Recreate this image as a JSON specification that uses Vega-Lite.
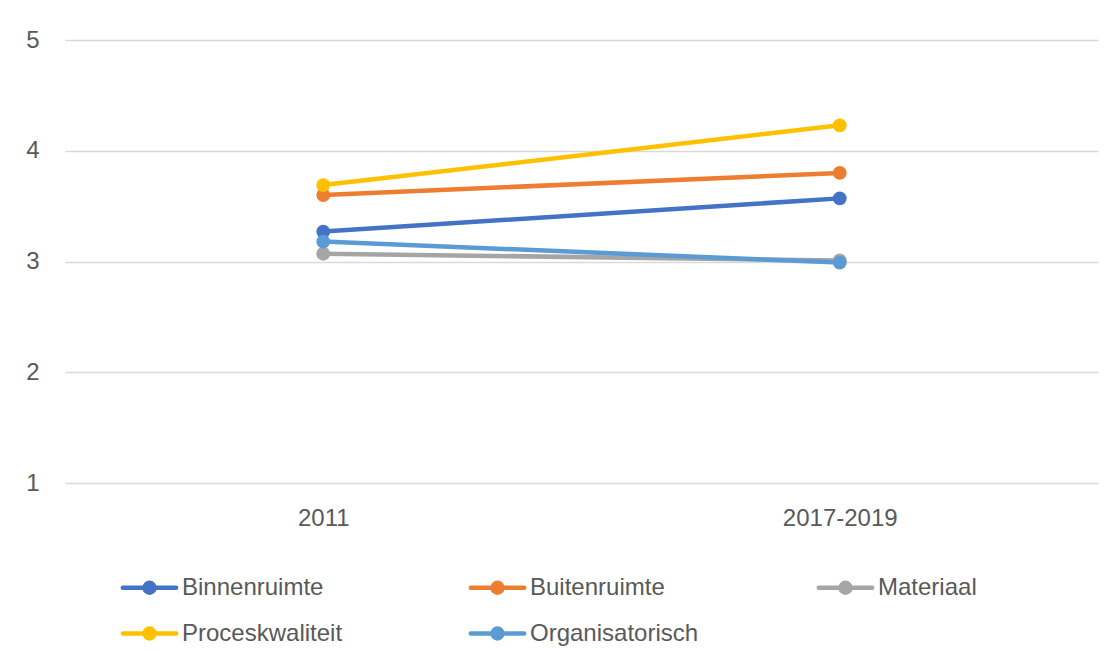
{
  "$schema": "https://vega.github.io/schema/vega-lite/v6.json",
  "width": 1033,
  "height": 443,
  "autosize": {"type": "none"},
  "padding": {"left": 65, "top": 40, "right": 17, "bottom": 167},
  "background": "white",
  "config": {
    "view": {"stroke": null},
    "font": "Liberation Sans"
  },
  "data": {
    "values": [
      {"periode": "2011", "reeks": "Binnenruimte", "waarde": 3.27},
      {"periode": "2017-2019", "reeks": "Binnenruimte", "waarde": 3.57},
      {"periode": "2011", "reeks": "Buitenruimte", "waarde": 3.60},
      {"periode": "2017-2019", "reeks": "Buitenruimte", "waarde": 3.80},
      {"periode": "2011", "reeks": "Materiaal", "waarde": 3.07},
      {"periode": "2017-2019", "reeks": "Materiaal", "waarde": 3.01},
      {"periode": "2011", "reeks": "Proceskwaliteit", "waarde": 3.69},
      {"periode": "2017-2019", "reeks": "Proceskwaliteit", "waarde": 4.23},
      {"periode": "2011", "reeks": "Organisatorisch", "waarde": 3.18},
      {"periode": "2017-2019", "reeks": "Organisatorisch", "waarde": 2.99}
    ]
  },
  "encoding": {
    "x": {
      "field": "periode",
      "type": "ordinal",
      "scale": {"type": "point", "padding": 0.5},
      "axis": {
        "title": null,
        "labelAngle": 0,
        "ticks": false,
        "domain": false,
        "grid": false,
        "labelFontSize": 24,
        "labelColor": "#595959",
        "labelPadding": 35,
        "labelBaseline": "middle"
      }
    },
    "y": {
      "field": "waarde",
      "type": "quantitative",
      "scale": {"domain": [1, 5], "nice": false, "zero": false},
      "axis": {
        "title": null,
        "values": [1, 2, 3, 4, 5],
        "ticks": false,
        "domain": false,
        "gridColor": "#d9d9d9",
        "gridWidth": 1.5,
        "labelFontSize": 24,
        "labelColor": "#595959",
        "labelPadding": 26
      }
    },
    "color": {
      "field": "reeks",
      "type": "nominal",
      "sort": null,
      "scale": {
        "domain": ["Binnenruimte", "Buitenruimte", "Materiaal", "Proceskwaliteit", "Organisatorisch"],
        "range": ["#4472C4", "#ED7D31", "#A5A5A5", "#FFC000", "#5B9BD5"]
      },
      "legend": {
        "title": null,
        "orient": "none",
        "legendX": 53,
        "legendY": 516,
        "direction": "horizontal",
        "columns": 3,
        "gridAlign": "all",
        "columnPadding": 110,
        "rowPadding": -10,
        "labelFontSize": 24,
        "labelColor": "#595959",
        "labelOffset": 1,
        "labelLimit": 400,
        "symbolSize": 3364,
        "symbolType": "M-0.92,0L0.92,0M0.17,0A0.17,0.17,0,1,1,-0.17,0A0.17,0.17,0,1,1,0.17,0Z",
        "symbolStrokeWidth": 4.5,
        "encode": {
          "symbols": {
            "update": {
              "fill": {"scale": "color", "field": "value"},
              "stroke": {"scale": "color", "field": "value"},
              "strokeCap": {"value": "round"},
              "opacity": {"value": 1}
            }
          }
        }
      }
    }
  },
  "layer": [
    {
      "mark": {"type": "line", "strokeWidth": 4.5, "strokeCap": "round"},
      "encoding": {"detail": {"field": "reeks"}}
    },
    {
      "mark": {"type": "circle", "size": 190, "opacity": 1}
    }
  ]
}
